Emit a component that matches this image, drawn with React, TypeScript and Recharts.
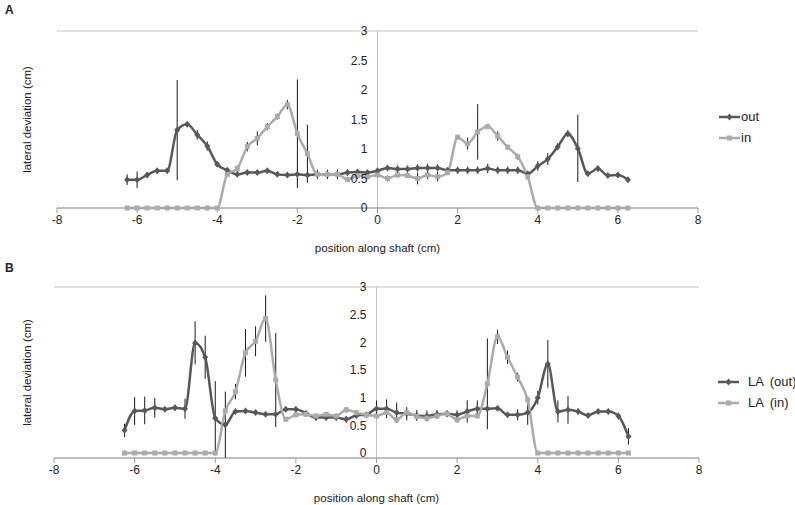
import React from 'react';
import { LineChart, Line, XAxis, YAxis, CartesianGrid, ReferenceLine, ReferenceDot, ErrorBar, Legend } from 'recharts';

// position along shaft (cm), one point every 0.25 cm
const positions = [
  -6.25, -6, -5.75, -5.5, -5.25, -5, -4.75, -4.5, -4.25, -4, -3.75, -3.5, -3.25, -3, -2.75, -2.5, -2.25,
  -2, -1.75, -1.5, -1.25, -1, -0.75, -0.5, -0.25, 0, 0.25, 0.5, 0.75, 1, 1.25, 1.5, 1.75, 2, 2.25, 2.5,
  2.75, 3, 3.25, 3.5, 3.75, 4, 4.25, 4.5, 4.75, 5, 5.25, 5.5, 5.75, 6, 6.25,
];

// panel A
const outA = [
  0.48, 0.48, 0.56, 0.63, 0.63, 1.32, 1.42, 1.24, 1.05, 0.74, 0.64, 0.57, 0.6, 0.6, 0.63, 0.57, 0.56,
  0.57, 0.56, 0.57, 0.57, 0.57, 0.6, 0.61, 0.6, 0.63, 0.68, 0.66, 0.66, 0.68, 0.68, 0.68, 0.64, 0.64, 0.64, 0.64,
  0.67, 0.64, 0.64, 0.64, 0.58, 0.71, 0.83, 1.04, 1.26, 1.01, 0.58, 0.67, 0.55, 0.56, 0.48,
];
const outAErr = [
  0.09, 0.14, 0.05, 0.04, 0.04, 0.85, 0.04, 0.08, 0.08, 0.04, 0.03, 0.04, 0.04, 0.04, 0.03, 0.04, 0.04,
  0.04, 0.04, 0.08, 0.08, 0.08, 0.06, 0.04, 0.04, 0.05, 0.04, 0.06, 0.06, 0.06, 0.07, 0.06, 0.04, 0.06, 0.06, 0.06,
  0.08, 0.06, 0.06, 0.06, 0.04, 0.08, 0.1, 0.06, 0.06, 0.57, 0.04, 0.05, 0.04, 0.05, 0.03,
];
const inA = [
  0, 0, 0, 0, 0, 0, 0, 0, 0, 0, 0.57, 0.67, 1.04, 1.18, 1.38, 1.55, 1.75,
  1.26, 0.92, 0.57, 0.57, 0.57, 0.48, 0.55, 0.53, 0.56, 0.5, 0.56, 0.55, 0.5, 0.56, 0.53, 0.6, 1.2, 1.09, 1.29,
  1.38, 1.22, 1.03, 0.87, 0.53, 0, 0, 0, 0, 0, 0, 0, 0, 0, 0,
];
const inAErr = [
  0, 0, 0, 0, 0, 0, 0, 0, 0, 0, 0.03, 0.05, 0.08, 0.12, 0.06, 0.05, 0.08,
  0.92, 0.49, 0.06, 0.06, 0.06, 0.04, 0.06, 0.04, 0.04, 0.05, 0.04, 0.04, 0.1, 0.07, 0.08, 0.04, 0.04, 0.1, 0.47,
  0.04, 0.08, 0.04, 0.05, 0.04, 0, 0, 0, 0, 0, 0, 0, 0, 0, 0,
];

// panel B
const outB = [
  0.41, 0.76, 0.77, 0.82, 0.79, 0.82, 0.8, 1.99, 1.73, 0.63, 0.51, 0.75, 0.76, 0.73, 0.7, 0.7, 0.79,
  0.79, 0.72, 0.64, 0.64, 0.64, 0.61, 0.68, 0.69, 0.8, 0.8, 0.73, 0.71, 0.68, 0.67, 0.7, 0.71, 0.69, 0.75, 0.8,
  0.8, 0.81, 0.69, 0.69, 0.73, 1.0, 1.61, 0.75, 0.78, 0.75, 0.68, 0.75, 0.75, 0.67, 0.3,
];
const outBErr = [
  0.12, 0.25, 0.25, 0.18, 0.04, 0.05, 0.18, 0.39, 0.39, 0.67, 0.6, 0.04, 0.04, 0.03, 0.03, 0.04, 0.04,
  0.04, 0.04, 0.05, 0.05, 0.05, 0.06, 0.05, 0.04, 0.15, 0.17, 0.18, 0.12, 0.1, 0.1, 0.08, 0.06, 0.08, 0.2, 0.15,
  0.05, 0.04, 0.05, 0.1, 0.22, 0.12, 0.43, 0.2, 0.25, 0.05, 0.04, 0.04, 0.05, 0.06, 0.15,
];
const inB = [
  0, 0, 0, 0, 0, 0, 0, 0, 0, 0, 0.76, 1.11, 1.81, 2.02, 2.43, 1.32, 0.61,
  0.69, 0.7, 0.67, 0.7, 0.67, 0.78, 0.73, 0.69, 0.67, 0.73, 0.6, 0.73, 0.66, 0.63, 0.67, 0.71, 0.6, 0.67, 0.67,
  1.25, 2.1, 1.73, 1.37, 0.96, 0, 0, 0, 0, 0, 0, 0, 0, 0, 0,
];
const inBErr = [
  0, 0, 0, 0, 0, 0, 0, 0, 0, 0, 0.05, 0.14, 0.43, 0.27, 0.42, 0.85, 0.04,
  0.04, 0.04, 0.04, 0.04, 0.04, 0.05, 0.04, 0.04, 0.04, 0.05, 0.05, 0.04, 0.04, 0.04, 0.04, 0.04, 0.05, 0.04, 0.04,
  0.82, 0.13, 0.12, 0.08, 0.05, 0, 0, 0, 0, 0, 0, 0, 0, 0, 0,
];

const xTicks = [-8, -6, -4, -2, 0, 2, 4, 6, 8];
const yTicks = [0, 0.5, 1, 1.5, 2, 2.5, 3];
const seriesOrder = ['out', 'in'];

const OUT_COLOR = '#585858';
const IN_COLOR = '#ababab';
const GRID = '#c3c3c3';
const TEXT = '#222';
const FONT = '"Liberation Sans", Arial, sans-serif';

const makeRows = (out: number[], outErr: number[], inn: number[], inErr: number[]) =>
  positions.map((x, i) => ({ x, out: out[i], outErr: outErr[i], in: inn[i], inErr: inErr[i] }));

const rowsA = makeRows(outA, outAErr, inA, inAErr);
const rowsB = makeRows(outB, outBErr, inB, inBErr);

const Diamond = (props: any) => {
  const { cx, cy, index } = props;
  if (cx == null || cy == null) return <g key={`d-${index}`} />;
  return <path key={`d-${index}`} d={`M${cx},${cy - 3.5}L${cx + 3},${cy}L${cx},${cy + 3.5}L${cx - 3},${cy}Z`} fill={OUT_COLOR} />;
};

const Square = (props: any) => {
  const { cx, cy, index } = props;
  if (cx == null || cy == null) return <g key={`s-${index}`} />;
  return <rect key={`s-${index}`} x={cx - 2.5} y={cy - 2.5} width={5} height={5} fill={IN_COLOR} />;
};

const legendContent = (gap: number) => (props: any) => {
  const items = [...(props.payload || [])].sort(
    (a: any, b: any) => seriesOrder.indexOf(a.dataKey) - seriesOrder.indexOf(b.dataKey)
  );
  return (
    <div style={{ fontFamily: FONT, fontSize: 13, color: TEXT }}>
      {items.map((e: any) => (
        <div key={e.value} style={{ display: 'flex', alignItems: 'center', height: 21 }}>
          <svg width={21} height={10}>
            <line x1={0} y1={5} x2={21} y2={5} stroke={e.color} strokeWidth={2.5} />
            {e.dataKey === 'out'
              ? <path d="M10.5,1.5L13.5,5L10.5,8.5L7.5,5Z" fill={e.color} />
              : <rect x={8} y={2.5} width={5} height={5} fill={e.color} />}
          </svg>
          <span style={{ marginLeft: gap, whiteSpace: 'pre', wordSpacing: 3 }}>{e.value}</span>
        </div>
      ))}
    </div>
  );
};

interface PanelProps {
  rows: any[];
  names: [string, string];
  height: number;
  top: number;
  left: number;
  right: number;
  legendLeft: number;
  legendTop: number;
  legendGap: number;
}

const Panel: React.FC<PanelProps> = ({ rows, names, height, top, left, right, legendLeft, legendTop, legendGap }) => (
  <LineChart width={795} height={height} data={rows} margin={{ top, right, bottom: 5, left: 0 }} style={{ fontFamily: FONT }}>
    <CartesianGrid vertical={false} stroke={GRID} />
    <XAxis
      type="number"
      dataKey="x"
      domain={[-8, 8]}
      ticks={xTicks}
      height={42}
      axisLine={{ stroke: '#9a9a9a' }}
      tickLine={{ stroke: '#9a9a9a' }}
      tickSize={5}
      tick={{ fill: TEXT, fontSize: 12 }}
      label={{ value: 'position along shaft (cm)', position: 'insideBottom', offset: -2, fill: TEXT, fontSize: 11.5 }}
    />
    <YAxis
      type="number"
      domain={[0, 3]}
      ticks={yTicks}
      width={left}
      tick={false}
      axisLine={false}
      tickLine={false}
      label={{ value: 'lateral deviation (cm)', angle: -90, position: 'insideLeft', offset: 27, fill: TEXT, fontSize: 11.5, style: { textAnchor: 'middle' } }}
    />
    <ReferenceLine x={0} stroke={GRID} />
    {yTicks.map(v => (
      <ReferenceDot key={v} x={0} y={v} r={0} fill="none" stroke="none"
        label={{ value: v, position: 'left', offset: 10, fill: TEXT, fontSize: 12 }} />
    ))}
    <Line dataKey="out" name={names[0]} type="monotone" stroke={OUT_COLOR} strokeWidth={2.5} dot={Diamond} activeDot={false} isAnimationActive={false}>
      <ErrorBar dataKey="outErr" direction="y" width={0} stroke="#1a1a1a" strokeWidth={1} />
    </Line>
    <Line dataKey="in" name={names[1]} type="monotone" stroke={IN_COLOR} strokeWidth={2.5} dot={Square} activeDot={false} isAnimationActive={false}>
      <ErrorBar dataKey="inErr" direction="y" width={0} stroke="#1a1a1a" strokeWidth={1} />
    </Line>
    <Legend layout="vertical" align="center" verticalAlign="middle"
      wrapperStyle={{ left: legendLeft, top: legendTop, width: 'auto' }}
      content={legendContent(legendGap)} />
  </LineChart>
);

export default function App() {
  return (
    <div style={{ position: 'relative', width: 795, height: 505, background: '#fff', fontFamily: FONT }}>
      <style>{'body{margin:0}'}</style>
      <div style={{ position: 'absolute', left: 5, top: 3, fontWeight: 'bold', fontSize: 12, color: TEXT, zIndex: 2 }}>A</div>
      <Panel rows={rowsA} names={['out', 'in']} height={255} top={31} left={57} right={97}
        legendLeft={719} legendTop={106} legendGap={1} />
      <div style={{ position: 'absolute', left: 5, top: 261, fontWeight: 'bold', fontSize: 12, color: TEXT, zIndex: 2 }}>B</div>
      <Panel rows={rowsB} names={['LA (out)', 'LA (in)']} height={250} top={32} left={54} right={96}
        legendLeft={718} legendTop={116} legendGap={9} />
    </div>
  );
}
